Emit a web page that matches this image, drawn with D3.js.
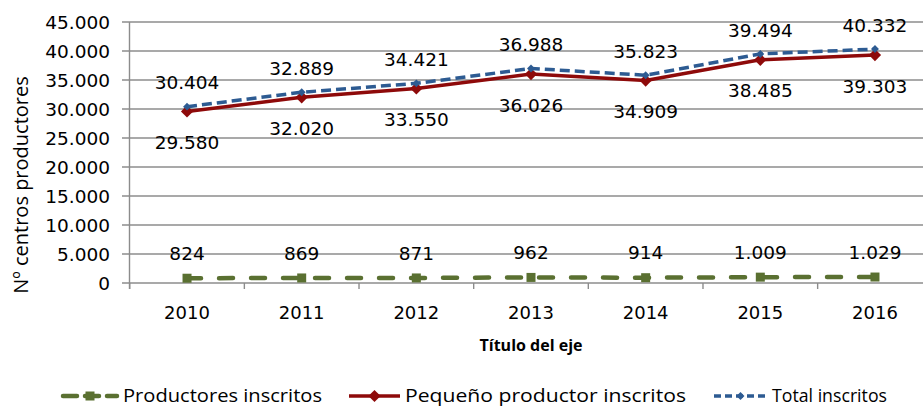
<!DOCTYPE html>
<html><head><meta charset="utf-8">
<script src="https://cdn.jsdelivr.net/npm/d3@7/dist/d3.min.js"></script>
<style>
html,body{margin:0;padding:0;background:#fff;overflow:hidden;}
svg{display:block;}
</style></head>
<body>
<svg id="chart" width="923" height="409"></svg>
<script>
const years = ["2010","2011","2012","2013","2014","2015","2016"];
const productores = [824, 869, 871, 962, 914, 1009, 1029];
const pequeno = [29580, 32020, 33550, 36026, 34909, 38485, 39303];
const total = [30404, 32889, 34421, 36988, 35823, 39494, 40332];
const yTicks = [0, 5000, 10000, 15000, 20000, 25000, 30000, 35000, 40000, 45000];
const seriesNames = ["Productores inscritos", "Pequeño productor inscritos", "Total inscritos"];
const yTitle = "Nº centros productores";
const xTitle = "Título del eje";

const loc = d3.formatLocale({decimal: ",", thousands: ".", grouping: [3], currency: ["", "€"]});
const fmt = loc.format(",d");

const svg = d3.select("#chart");
const numFont = "'DejaVu Sans', Verdana, sans-serif";
const txtFont = "'Open Sans', 'Noto Sans', sans-serif";

const x = d3.scaleBand().domain(years).range([129.7, 932.3]).padding(0);
const y = d3.scaleLinear().domain([0, 45000]).range([283, 22]);
const cx = d => x(d) + x.bandwidth() / 2;

// gridlines
svg.append("g").selectAll("line").data(yTicks).join("line")
  .attr("x1", 122).attr("x2", 923)
  .attr("y1", d => y(d)).attr("y2", d => y(d))
  .attr("stroke", "#8c8c8c").attr("stroke-width", 1.4);

// y axis line
svg.append("line").attr("x1", 129.5).attr("x2", 129.5).attr("y1", y(45000)).attr("y2", 289)
  .attr("stroke", "#8c8c8c").attr("stroke-width", 1.4);

// x ticks at boundaries
const bounds = years.map(d => x(d)).concat([x.range()[1]]);
svg.append("g").selectAll("line").data(bounds).join("line")
  .attr("x1", d => d).attr("x2", d => d).attr("y1", 283).attr("y2", 289)
  .attr("stroke", "#8c8c8c").attr("stroke-width", 1.4);

// y tick labels
svg.append("g").selectAll("text").data(yTicks).join("text")
  .attr("x", 110).attr("y", d => y(d)).attr("dy", "0.36em")
  .attr("text-anchor", "end").attr("font-family", numFont).attr("font-size", 18.5)
  .attr("fill", "#000").text(d => fmt(d));

// x tick labels
svg.append("g").selectAll("text").data(years).join("text")
  .attr("x", d => cx(d)).attr("y", 313).attr("dy", "0.36em")
  .attr("text-anchor", "middle").attr("font-family", numFont).attr("font-size", 18)
  .attr("fill", "#000").text(d => d);

// axis titles
svg.append("text").attr("transform", "translate(21,185) rotate(-90)")
  .attr("text-anchor", "middle").attr("dy", "0.36em")
  .attr("font-family", txtFont).attr("font-size", 20).attr("fill", "#000").text(yTitle);
svg.append("text").attr("x", 531).attr("y", 345).attr("dy", "0.36em")
  .attr("text-anchor", "middle").attr("font-family", txtFont).attr("font-weight", "bold")
  .attr("font-size", 16).attr("fill", "#000").text(xTitle);

const colors = ["#5a7031", "#8e0a0a", "#2d5b92"];
const line = d3.line().x((d, i) => cx(years[i])).y(d => y(d));

// Productores (green dashed, squares)
svg.append("path").datum(productores).attr("d", line).attr("fill", "none")
  .attr("stroke", colors[0]).attr("stroke-width", 4.5).attr("stroke-dasharray", "14,18")
  .attr("stroke-linecap", "round");
svg.append("g").selectAll("rect").data(productores).join("rect")
  .attr("x", (d, i) => cx(years[i]) - 4.5).attr("y", d => y(d) - 4.5)
  .attr("width", 9).attr("height", 9).attr("fill", colors[0]);

// Pequeño (red solid, diamonds)
svg.append("path").datum(pequeno).attr("d", line).attr("fill", "none")
  .attr("stroke", colors[1]).attr("stroke-width", 3.5).attr("stroke-linejoin", "round");
const diamond = d3.symbol().type(d3.symbolDiamond2);
svg.append("g").selectAll("path").data(pequeno).join("path")
  .attr("d", diamond.size(95)())
  .attr("transform", (d, i) => `translate(${cx(years[i])},${y(d)})`)
  .attr("fill", colors[1]);

// Total (blue dashed, small diamonds)
svg.append("path").datum(total).attr("d", line).attr("fill", "none")
  .attr("stroke", colors[2]).attr("stroke-width", 3.5).attr("stroke-dasharray", "10,5");
svg.append("g").selectAll("path").data(total).join("path")
  .attr("d", d3.symbol().type(d3.symbolDiamond2).size(40)())
  .attr("transform", (d, i) => `translate(${cx(years[i])},${y(d)})`)
  .attr("fill", colors[2]);

// data labels
function labels(data, off) {
  svg.append("g").selectAll("text").data(data).join("text")
    .attr("x", (d, i) => cx(years[i])).attr("y", d => y(d) + off).attr("dy", "0.36em")
    .attr("text-anchor", "middle").attr("font-family", numFont).attr("font-size", 18.5)
    .attr("fill", "#000").text(d => fmt(d));
}
labels(productores, -25);
labels(pequeno, 31);
labels(total, -24);

// legend
const lg = svg.append("g").attr("transform", "translate(0,396)");
const items = [
  {x0: 63, x1: 117, text: 123},
  {x0: 349, x1: 400, text: 405},
  {x0: 714, x1: 767, text: 772}
];
// green
lg.append("line").attr("x1", items[0].x0).attr("x2", items[0].x1).attr("y1", 0).attr("y2", 0)
  .attr("stroke", colors[0]).attr("stroke-width", 4.5).attr("stroke-dasharray", "14,8").attr("stroke-linecap", "round");
lg.append("rect").attr("x", (items[0].x0 + items[0].x1) / 2 - 4.5).attr("y", -4.5).attr("width", 9).attr("height", 9).attr("fill", colors[0]);
// red
lg.append("line").attr("x1", items[1].x0).attr("x2", items[1].x1).attr("y1", 0).attr("y2", 0)
  .attr("stroke", colors[1]).attr("stroke-width", 3.5);
lg.append("path").attr("d", diamond.size(95)()).attr("transform", `translate(${(items[1].x0 + items[1].x1) / 2},0)`).attr("fill", colors[1]);
// blue
lg.append("line").attr("x1", items[2].x0).attr("x2", items[2].x1).attr("y1", 0).attr("y2", 0)
  .attr("stroke", colors[2]).attr("stroke-width", 3.5).attr("stroke-dasharray", "7,4");
lg.append("path").attr("d", d3.symbol().type(d3.symbolDiamond2).size(40)()).attr("transform", `translate(${(items[2].x0 + items[2].x1) / 2},0)`).attr("fill", colors[2]);

lg.selectAll("text.lt").data(seriesNames).join("text").attr("class", "lt")
  .attr("x", (d, i) => items[i].text).attr("y", 0).attr("dy", "0.34em")
  .attr("font-family", txtFont).attr("font-size", 19).attr("fill", "#000")
  .attr("textLength", (d, i) => [199, 281, 115][i]).attr("lengthAdjust", "spacingAndGlyphs")
  .text(d => d);
</script>
</body></html>
